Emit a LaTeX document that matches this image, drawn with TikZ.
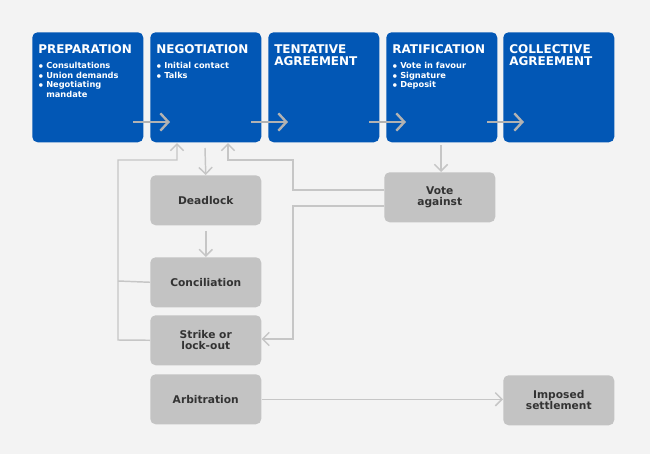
\documentclass[tikz,border=0pt]{standalone}
\usepackage{fontspec}
\setmainfont{DejaVu Sans}
\usetikzlibrary{arrows.meta}
\definecolor{bg}{HTML}{F3F3F3}
\definecolor{blu}{HTML}{0257B5}
\definecolor{gbox}{HTML}{C3C3C3}
\definecolor{ln}{HTML}{C6C6C6}
\definecolor{txt}{HTML}{333333}
\begin{document}
\begin{tikzpicture}[x=0.75pt,y=-0.75pt,
  bbox/.style={fill=blu,rounded corners=4pt,minimum width=83.25pt,minimum height=82.5pt,inner sep=0pt},
  gb/.style={fill=gbox,rounded corners=4pt,minimum width=83.25pt,minimum height=37.5pt,inner sep=0pt,text=txt,font=\fontsize{8}{8.6}\selectfont\bfseries,align=center},
  ttl/.style={text=white,font=\fontsize{9}{9}\selectfont\bfseries,anchor=north west,align=left,inner sep=0pt},
  bul/.style={text=white,font=\fontsize{6.2}{7.2}\selectfont\bfseries,anchor=north west,align=left,inner sep=0pt},
  con/.style={draw=ln,line width=1.1pt},
  arr/.style={con,-{Straight Barb[length=5pt,width=10pt,line width=1.1pt]}},
  big/.style={draw=ln!90!black,line width=1.8pt,-{Straight Barb[length=6pt,width=13pt,line width=1.8pt]}}]
\fill[bg] (0,0) rectangle (650,454);
\useasboundingbox (0,0) rectangle (650,454);
\node[bbox,anchor=north west] (prep) at (32,32) {};
\node[bbox,anchor=north west] (neg) at (150,32) {};
\node[bbox,anchor=north west] (tent) at (268,32) {};
\node[bbox,anchor=north west] (rat) at (386,32) {};
\node[bbox,anchor=north west] (coll) at (503,32) {};
\node[ttl] (t1) at (38,44) {PREPARATION};
\node[ttl] (t2) at (156,44) {NEGOTIATION};
\node[ttl] (t3) at (274,44) {TENTATIVE\\AGREEMENT};
\node[ttl] (t4) at (392,44) {RATIFICATION};
\node[ttl] (t5) at (509,44) {COLLECTIVE\\AGREEMENT};
\node[bul] (b1) at (38,62) {$\bullet$ Consultations\\$\bullet$ Union demands\\$\bullet$ Negotiating\\\phantom{$\bullet$} mandate};
\node[bul] (b2) at (156,62) {$\bullet$ Initial contact\\$\bullet$ Talks};
\node[bul] (b4) at (392,62) {$\bullet$ Vote in favour\\$\bullet$ Signature\\$\bullet$ Deposit};
\node[gb,anchor=north west] (dead) at (150,175) {Deadlock};
\node[gb,anchor=north west] (conc) at (150,257) {Conciliation};
\node[gb,anchor=north west] (strike) at (150,315) {Strike or\\lock-out};
\node[gb,anchor=north west] (arb) at (150,374) {Arbitration};
\node[gb,anchor=north west] (vote) at (384,172) {Vote\\against};
\node[gb,anchor=north west] (imp) at (503,375) {Imposed\\settlement};
\coordinate (a1) at (133,122); \coordinate (a2) at (170,122);
\coordinate (a3) at (251,122); \coordinate (a4) at (288,122);
\coordinate (a5) at (369,122); \coordinate (a6) at (406,122);
\coordinate (a7) at (487,122); \coordinate (a8) at (524,122);
\draw[big] (a1) -- (a2);
\draw[big] (a3) -- (a4);
\draw[big] (a5) -- (a6);
\draw[big] (a7) -- (a8);
\draw[arr] (205,148) -- (dead.north);
\draw[arr] (dead.south) ++(0,-4pt) -- (conc.north);
\draw[arr] (441,145) -- (vote.north -| 441,0);
\draw[con] (conc.west) -- (118,281);
\draw[arr] (strike.west) -- (118,340) -- (118,160) -- (177,160) -- (177,143);
\draw[arr] (vote.west |- 0,190) -- (293,190) -- (293,160) -- (228,160) -- (228,143);
\draw[arr] (vote.west |- 0,206) -- (293,206) -- (293,339) -- (strike.east |- 0,339);
\draw[arr] (arb.east) -- (imp.west |- arb.east);
\end{tikzpicture}
\end{document}
